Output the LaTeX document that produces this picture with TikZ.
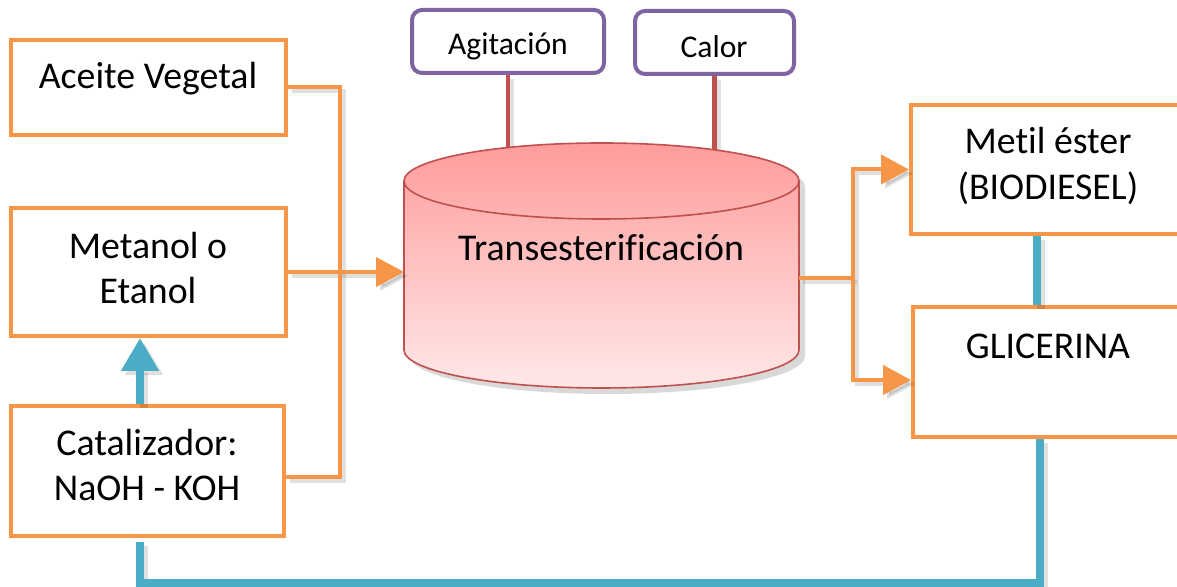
\documentclass[tikz,border=0pt]{standalone}
\usepackage{fontspec}
\setmainfont[Ligatures=NoCommon]{Carlito}
\usetikzlibrary{arrows.meta}
\definecolor{flowOrange}{HTML}{F79646}
\definecolor{flowBlue}{HTML}{4BACC6}
\definecolor{flowPurple}{HTML}{8064A2}
\definecolor{flowRed}{HTML}{C0504D}
\definecolor{tankTop}{RGB}{255,156,156}
\definecolor{tankBottom}{RGB}{255,232,232}

% connector geometry, drawn once as a soft shadow and once in colour
\newcommand\feedpaths[1]{%
  \draw[feed,#1] (aceite.east) -| (busL |- catOut) -- (catOut);
  \draw[feed,feedtip,#1] (metanol.east) -- (tankL);
  \draw[feed,#1] (tankR) -- (busR |- tankR);
  \draw[feed,feedtip,#1] (busR |- tankR) |- (metil.west);
  \draw[feed,feedtip,#1] (busR |- tankR) |- (glicIn);}
\newcommand\linkpaths[1]{%
  \draw[link,#1] (sepX |- metil.south) -- (sepX |- glic.north);
  \draw[link,linktip,#1] (catX |- catal.north) -- (catX |- metanol.south);
  \draw[link,#1] (retX |- glic.south) |- (catX |- loopY) -- (catBack);}
\newcommand\stirpaths[1]{%
  \draw[stir,#1] (agit.south) -- (tankA);
  \draw[stir,#1] (calor.south) -- (calor.south |- tankC);}
\newcommand\tankbody{(404,406) -- (404,237) arc (180:360:197.5 and 38) -- (799,406) arc (0:180:197.5 and 38) -- cycle}

\begin{document}
\begin{tikzpicture}[x=0.5pt,y=0.5pt,
  procbox/.style={draw=flowOrange,line width=2pt,fill=white,inner sep=0pt},
  condbox/.style={draw=flowPurple,line width=2pt,fill=white,rounded corners=5pt,inner sep=0pt,minimum height=31.5pt},
  bigtext/.style={font=\fontsize{18.9}{22.8}\selectfont,align=center,inner sep=0pt},
  smalltext/.style={font=\fontsize{15.8}{19}\selectfont,inner sep=0pt},
  feed/.style={draw=flowOrange,line width=2pt},
  link/.style={draw=flowBlue,line width=4pt},
  stir/.style={draw=flowRed,line width=2.2pt},
  feedtip/.style={-{Triangle[length=14pt,width=14.5pt]}},
  linktip/.style={-{Triangle[length=16.5pt,width=18pt]}},
  soft/.style={draw=black,opacity=0.12}
]
\useasboundingbox (0,0) rectangle (1177,587);
\clip (0,0) rectangle (1177,587);

% reaction conditions on top
\node[condbox,minimum width=96pt] (agit) at (508,545.5) {};
\node[condbox,minimum width=79.5pt] (calor) at (714.5,544.5) {};
\node[smalltext] (tAgit) at (508,541) {Agitación};
\node[smalltext] (tCalor) at (714,540) {Calor};

% reactor
\coordinate (tankA) at (508,432);
\coordinate (tankC) at (0,430);
\begin{scope}[transform canvas={xshift=2pt,yshift=-2pt}]
  \stirpaths{soft}
\end{scope}
\stirpaths{}
\begin{scope}[transform canvas={xshift=3pt,yshift=-3pt}]
  \fill[black,opacity=0.15] \tankbody;
\end{scope}
\shade[top color=tankTop,bottom color=tankBottom,draw=flowRed,line width=0.8pt] \tankbody;
\draw[flowRed,line width=0.8pt] (404,406) arc (180:360:197.5 and 38);
\node[bigtext] (tTank) at (601,339) {Transesterificación};

% inputs
\node[procbox,minimum width=137.5pt,minimum height=47.5pt] (aceite) at (148.5,499.5) {};
\node[procbox,minimum width=137.5pt,minimum height=64pt] (metanol) at (148.5,315) {};
\node[procbox,minimum width=136.5pt,minimum height=65pt] (catal) at (147.5,116) {};
\node[bigtext] (tAceite) at (148,508) {Aceite Vegetal};
\node[bigtext] (tMetanol) at (148,319) {Metanol o\\Etanol};
\node[bigtext] (tCatal) at (147,122) {Catalizador:\\NaOH - KOH};

% products
\node[procbox,minimum width=150pt,minimum height=64.5pt] (metil) at (1061,417.5) {};
\node[procbox,minimum width=150pt,minimum height=65pt] (glic) at (1063,215) {};
\node[bigtext] (tMetil) at (1048,421) {Metil éster\\(BIODIESEL)};
\node[bigtext] (tGlic) at (1048,241) {GLICERINA};

% connector anchors
\coordinate (busL) at (340,0);
\coordinate (busR) at (853,0);
\coordinate (catOut) at ([yshift=-3pt]catal.east);
\coordinate (tankL) at (404,315);
\coordinate (tankR) at (799,309);
\coordinate (glicIn) at ([yshift=-4pt]glic.west);
\coordinate (sepX) at (1037,0);
\coordinate (catX) at (140,0);
\coordinate (retX) at (1040,0);
\coordinate (loopY) at (0,4);
\coordinate (catBack) at (140,45);

\begin{scope}[transform canvas={xshift=2pt,yshift=-2pt}]
  \feedpaths{soft}
  \linkpaths{soft}
\end{scope}
\feedpaths{}
\linkpaths{}
\end{tikzpicture}
\end{document}
